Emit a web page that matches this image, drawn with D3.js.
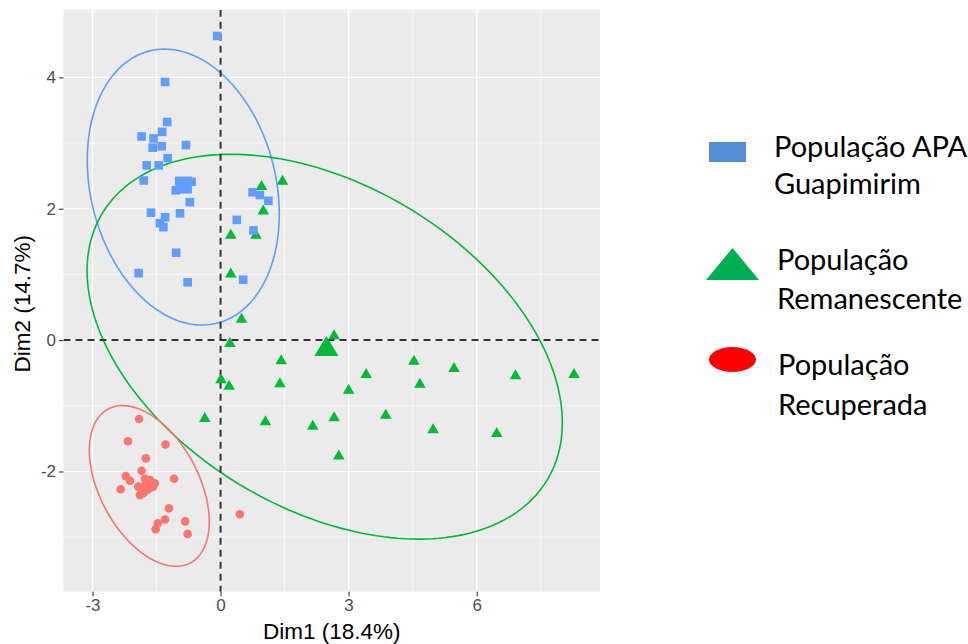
<!DOCTYPE html>
<html>
<head>
<meta charset="utf-8">
<script src="https://cdn.jsdelivr.net/npm/d3@7"></script>
<style>
  html, body { margin: 0; padding: 0; background: #ffffff; }
  svg { display: block; }
</style>
</head>
<body>
<svg id="chart" width="968" height="644"></svg>
<script>
// PCA individuals map: Dim1 vs Dim2, three populations with 95% concentration ellipses

// --- Population APA Guapimirim (squares)
const apaX = [-0.08, -1.30, -1.25, -1.37, -1.85, -1.57, -1.59, -1.38, -0.81, -1.24, -1.73, -1.45, -1.80,
  -0.95, -0.68, -0.83, -1.05, -0.72, -1.63, -1.30, -1.42, -1.34, -0.95, 0.75, 0.92, 1.12, 0.38, 0.77,
  -1.04, -1.92, -0.77, 0.53];
const apaY = [4.63, 3.93, 3.32, 3.17, 3.10, 3.07, 2.93, 2.95, 2.97, 2.77, 2.66, 2.66, 2.43,
  2.39, 2.41, 2.31, 2.28, 2.10, 1.94, 1.87, 1.78, 1.72, 1.93, 2.25, 2.21, 2.12, 1.83, 1.67,
  1.33, 1.02, 0.88, 0.92];

// --- População Remanescente (triangles)
const remX = [0.96, 1.45, 1.00, 0.24, 0.83, 0.24, 0.49, 0.22, 2.66, 1.42, 4.53, 5.47, 3.41, 6.91, 8.28,
  0.01, 0.20, 1.39, 4.67, 3.00, -0.37, 1.05, 2.16, 2.66, 3.87, 4.98, 6.47, 2.77];
const remY = [2.36, 2.44, 1.99, 1.62, 1.62, 1.03, 0.34, -0.03, 0.09, -0.29, -0.30, -0.41, -0.50, -0.52, -0.50,
  -0.58, -0.68, -0.64, -0.65, -0.74, -1.17, -1.22, -1.29, -1.16, -1.12, -1.34, -1.40, -1.74];

// --- População Recuperada (circles)
const recX = [-1.91, -2.17, -1.29, -1.75, -1.85, -2.22, -2.12, -1.09, -2.34, -1.93, -1.89, -1.72, -1.58,
  -1.77, -1.65, -1.81, -1.54, -1.21, -1.30, -1.47, -1.52, -0.83, -0.77, 0.45];
const recY = [-1.20, -1.54, -1.59, -1.80, -1.99, -2.07, -2.14, -2.11, -2.27, -2.23, -2.36, -2.28, -2.23,
  -2.11, -2.13, -2.33, -2.18, -2.56, -2.73, -2.79, -2.88, -2.76, -2.95, -2.65];

// Group means (drawn as enlarged symbols) and concentration ellipses (centre + covariance)
const groupNames = ["APA", "Remanescente", "Recuperada"];
const groupColors = ["#619CFF", "#00BA38", "#F8766D"];
const meanX = [-0.87, 2.48, -1.69];
const meanY = [2.36, -0.09, -2.21];
const ellCx = [-0.874, 2.44, -1.67];
const ellCy = [2.33, -0.10, -2.22];
const ellSxx = [5.06, 31.0, 1.974];
const ellSyy = [4.41, 8.58, 1.496];
const ellSxy = [-0.92, -6.44, -0.765];

// Axis breaks
const xMajor = [-3, 0, 3, 6];
const xMinor = [-1.5, 1.5, 4.5, 7.5];
const yMajor = [-2, 0, 2, 4];
const yMinor = [-3, -1, 1, 3, 5];

// Legend entries
const legendLines = [
  ["População APA", "Guapimirim"],
  ["População", "Remanescente"],
  ["População", "Recuperada"]
];
const legendColors = ["#558ED5", "#00B050", "#FF0000"];

const svg = d3.select("#chart");
const panel = { left: 63.5, right: 600, top: 9.7, bottom: 591.7 };

const x = d3.scaleLinear().domain([-3.68, 8.89]).range([panel.left, panel.right]);
const y = d3.scaleLinear().domain([-3.83, 5.03]).range([panel.bottom, panel.top]);

// panel background
svg.append("rect")
  .attr("x", panel.left).attr("y", panel.top)
  .attr("width", panel.right - panel.left).attr("height", panel.bottom - panel.top)
  .attr("fill", "#EBEBEB");

const grid = svg.append("g");
grid.selectAll(".xminor").data(xMinor).join("line")
  .attr("x1", d => x(d)).attr("x2", d => x(d))
  .attr("y1", panel.top).attr("y2", panel.bottom)
  .attr("stroke", "#ffffff").attr("stroke-width", 0.6);
grid.selectAll(".yminor").data(yMinor).join("line")
  .attr("y1", d => y(d)).attr("y2", d => y(d))
  .attr("x1", panel.left).attr("x2", panel.right)
  .attr("stroke", "#ffffff").attr("stroke-width", 0.6);
grid.selectAll(".xmajor").data(xMajor).join("line")
  .attr("x1", d => x(d)).attr("x2", d => x(d))
  .attr("y1", panel.top).attr("y2", panel.bottom)
  .attr("stroke", "#ffffff").attr("stroke-width", 1.2);
grid.selectAll(".ymajor").data(yMajor).join("line")
  .attr("y1", d => y(d)).attr("y2", d => y(d))
  .attr("x1", panel.left).attr("x2", panel.right)
  .attr("stroke", "#ffffff").attr("stroke-width", 1.2);

// Axes
const xAxis = d3.axisBottom(x).tickValues(xMajor).tickSize(4.5).tickPadding(3).tickFormat(d3.format("d"));
const yAxis = d3.axisLeft(y).tickValues(yMajor).tickSize(4.5).tickPadding(3).tickFormat(d3.format("d"));
const gx = svg.append("g").attr("transform", `translate(0,${panel.bottom})`).call(xAxis);
const gy = svg.append("g").attr("transform", `translate(${panel.left},0)`).call(yAxis);
[gx, gy].forEach(g => {
  g.select(".domain").remove();
  g.selectAll(".tick line").attr("stroke", "#333333").attr("stroke-width", 1.1);
  g.selectAll(".tick text")
    .attr("fill", "#4D4D4D")
    .style("font-family", "'Liberation Sans', Arial, sans-serif")
    .style("font-size", "17px");
});
gx.selectAll(".tick text").text(d => d < 0 ? "-" + Math.abs(d) : d);
gy.selectAll(".tick text").text(d => d < 0 ? "-" + Math.abs(d) : d);

// Axis titles
svg.append("text")
  .attr("x", (panel.left + panel.right) / 2).attr("y", 639)
  .attr("text-anchor", "middle")
  .style("font-family", "'Liberation Sans', Arial, sans-serif")
  .style("font-size", "22.5px").attr("fill", "#000")
  .text("Dim1 (18.4%)");
svg.append("text")
  .attr("transform", `translate(30,${(panel.top + panel.bottom) / 2 + 3}) rotate(-90)`)
  .attr("text-anchor", "middle")
  .style("font-family", "'Liberation Sans', Arial, sans-serif")
  .style("font-size", "22.5px").attr("fill", "#000")
  .text("Dim2 (14.7%)");

// Clip marks to the panel
svg.append("clipPath").attr("id", "panelClip").append("rect")
  .attr("x", panel.left).attr("y", panel.top)
  .attr("width", panel.right - panel.left).attr("height", panel.bottom - panel.top);
const plot = svg.append("g").attr("clip-path", "url(#panelClip)");

// Concentration ellipses from centre and covariance (Cholesky factor)
const line = d3.line().x(d => x(d[0])).y(d => y(d[1]));
groupNames.forEach((g, i) => {
  const l11 = Math.sqrt(ellSxx[i]);
  const l21 = ellSxy[i] / l11;
  const l22 = Math.sqrt(ellSyy[i] - l21 * l21);
  const pts = d3.range(0, 201).map(k => {
    const t = (k / 200) * 2 * Math.PI;
    return [ellCx[i] + l11 * Math.cos(t), ellCy[i] + l21 * Math.cos(t) + l22 * Math.sin(t)];
  });
  plot.append("path")
    .attr("d", line(pts))
    .attr("fill", "none")
    .attr("stroke", groupColors[i])
    .attr("stroke-width", 1.6);
});

// Reference lines at 0
plot.append("line")
  .attr("x1", x(0)).attr("x2", x(0)).attr("y1", panel.top).attr("y2", panel.bottom)
  .attr("stroke", "#333333").attr("stroke-width", 2).attr("stroke-dasharray", "7,5");
plot.append("line")
  .attr("y1", y(0)).attr("y2", y(0)).attr("x1", panel.left).attr("x2", panel.right)
  .attr("stroke", "#333333").attr("stroke-width", 2).attr("stroke-dasharray", "7,5");

// Triangle path centred on its bounding box
function triPath(cx, cy, w, h) {
  return `M${cx},${cy - h / 2}L${cx + w / 2},${cy + h / 2}L${cx - w / 2},${cy + h / 2}Z`;
}

// Points
const recPts = recX.map((v, i) => [v, recY[i]]);
const remPts = remX.map((v, i) => [v, remY[i]]);
const apaPts = apaX.map((v, i) => [v, apaY[i]]);

plot.selectAll(".rec").data(recPts).join("circle")
  .attr("cx", d => x(d[0])).attr("cy", d => y(d[1])).attr("r", 4.3)
  .attr("fill", groupColors[2]);
plot.selectAll(".rem").data(remPts).join("path")
  .attr("d", d => triPath(x(d[0]), y(d[1]), 11.5, 10))
  .attr("fill", groupColors[1]);
plot.selectAll(".apa").data(apaPts).join("rect")
  .attr("x", d => x(d[0]) - 4.3).attr("y", d => y(d[1]) - 4.3)
  .attr("width", 8.6).attr("height", 8.6)
  .attr("fill", groupColors[0]);

// Group means
plot.append("circle")
  .attr("cx", x(meanX[2])).attr("cy", y(meanY[2])).attr("r", 7.5).attr("fill", groupColors[2]);
plot.append("path")
  .attr("d", triPath(x(meanX[1]), y(meanY[1]), 24, 20)).attr("fill", groupColors[1]);
plot.append("rect")
  .attr("x", x(meanX[0]) - 8.5).attr("y", y(meanY[0]) - 8.5)
  .attr("width", 17).attr("height", 17).attr("fill", groupColors[0]);

// Legend
const leg = svg.append("g");
leg.append("rect").attr("x", 709).attr("y", 142).attr("width", 37).attr("height", 20)
  .attr("fill", legendColors[0]);
leg.append("path").attr("d", "M732.5,248L759,280L706,280Z").attr("fill", legendColors[1]);
leg.append("ellipse").attr("cx", 732.5).attr("cy", 359.5).attr("rx", 23.5).attr("ry", 12.5)
  .attr("fill", legendColors[2]);

const legendPos = [[774, 157, 194], [777, 270, 309], [778, 375, 415]];
legendLines.forEach((lines, i) => {
  lines.forEach((t, j) => {
    leg.append("text")
      .attr("x", legendPos[i][0]).attr("y", legendPos[i][1 + j])
      .style("font-family", "Lato, 'Open Sans', sans-serif")
      .style("font-size", "29px").attr("fill", "#000")
      .text(t);
  });
});
</script>
</body>
</html>
